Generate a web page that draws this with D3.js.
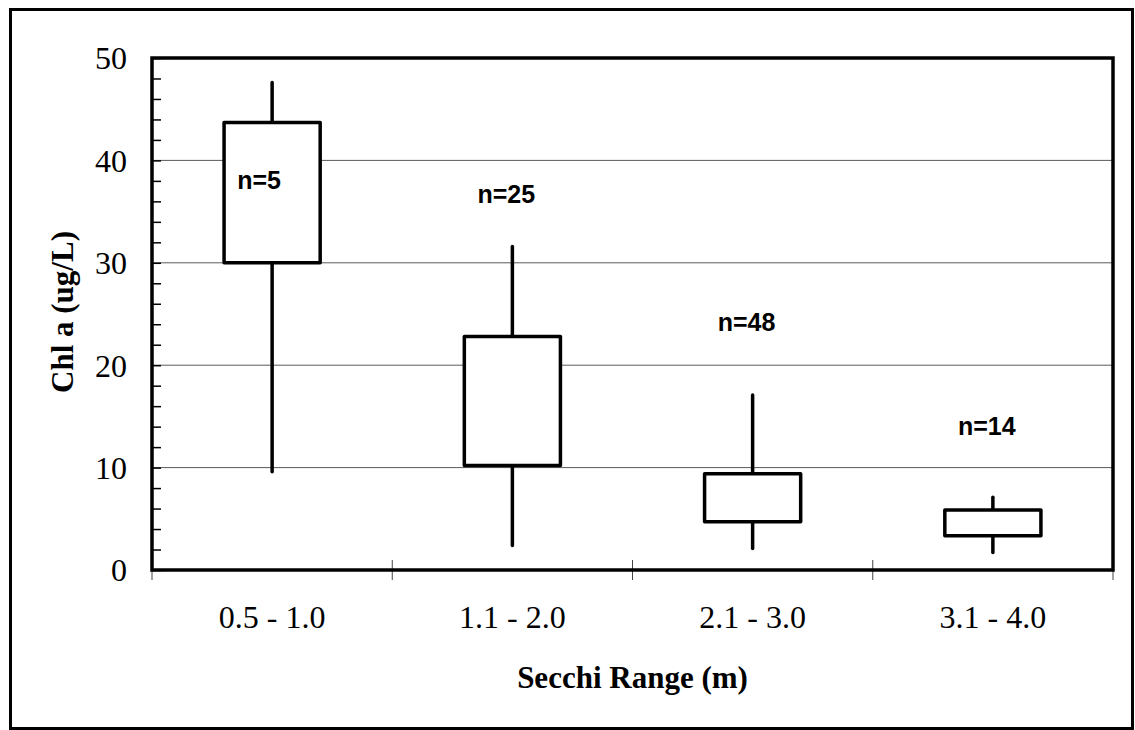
<!DOCTYPE html>
<html>
<head>
<meta charset="utf-8">
<script src="https://cdn.jsdelivr.net/npm/d3@7"></script>
<style>
  html, body { margin: 0; padding: 0; background: #fff; }
  svg { display: block; }
</style>
</head>
<body>
<svg id="chart" width="1135" height="730"></svg>
<script>
// Secchi depth classes and chlorophyll-a box summaries (ug/L)
const categories = ["0.5 - 1.0", "1.1 - 2.0", "2.1 - 3.0", "3.1 - 4.0"];
const whiskerLow = [9.6, 2.4, 2.1, 1.7];
const boxLow     = [30.0, 10.2, 4.7, 3.35];
const boxHigh    = [43.7, 22.8, 9.4, 5.85];
const whiskerHigh = [47.6, 31.6, 17.1, 7.1];
const sampleCounts = [5, 25, 48, 14];
const countLabelAt = [37.2, 35.8, 23.3, 13.2];
const yTicks = [0, 10, 20, 30, 40, 50];

const data = categories.map((c, i) => ({
  cat: c,
  wLo: whiskerLow[i], bLo: boxLow[i], bHi: boxHigh[i], wHi: whiskerHigh[i],
  n: sampleCounts[i], labelY: countLabelAt[i]
}));

const svg = d3.select("#chart");
const plot = { left: 152, right: 1113, top: 58, bottom: 570 };

const x = d3.scaleBand().domain(categories).range([plot.left, plot.right]).padding(0);
const y = d3.scaleLinear().domain([0, 50]).range([plot.bottom, plot.top]);
const boxW = x.bandwidth() * 0.4;

// outer frame
svg.append("rect")
  .attr("x", 10.5).attr("y", 9.5).attr("width", 1122).attr("height", 719)
  .attr("fill", "none").attr("stroke", "#000").attr("stroke-width", 3);

// horizontal gridlines
svg.append("g").selectAll("line")
  .data(yTicks.filter(v => v > 0 && v < 50))
  .join("line")
  .attr("x1", plot.left).attr("x2", plot.right)
  .attr("y1", d => y(d)).attr("y2", d => y(d))
  .attr("stroke", "#5a5a5a").attr("stroke-width", 1);

// minor ticks on the value axis, pointing into the plot
const minorAxis = d3.axisRight(y).tickValues(d3.range(0, 51, 2)).tickSize(9).tickFormat("");
svg.append("g")
  .attr("transform", `translate(${plot.left},0)`)
  .call(minorAxis)
  .call(g => g.select(".domain").remove())
  .call(g => g.selectAll(".tick line").attr("stroke", "#000").attr("stroke-width", 1.5));

// value axis labels
const yAxis = d3.axisLeft(y).tickValues(yTicks).tickSize(0).tickPadding(25);
svg.append("g")
  .attr("transform", `translate(${plot.left},0)`)
  .call(yAxis)
  .call(g => g.select(".domain").remove())
  .call(g => g.selectAll(".tick text")
    .attr("font-family", "'Liberation Serif', 'Times New Roman', serif")
    .attr("font-size", 32).attr("fill", "#000").attr("dy", "0.34em"));

// category axis labels
const xAxis = d3.axisBottom(x).tickSize(0);
svg.append("g")
  .attr("transform", `translate(0,${plot.bottom})`)
  .call(xAxis)
  .call(g => g.select(".domain").remove())
  .call(g => g.selectAll(".tick text")
    .attr("font-family", "'Liberation Serif', 'Times New Roman', serif")
    .attr("font-size", 32).attr("fill", "#000")
    .attr("y", 58).attr("dy", 0));

// category boundary ticks crossing the axis
const bounds = categories.map(c => x(c)).concat([x(categories[categories.length - 1]) + x.bandwidth()]);
svg.append("g").selectAll("line")
  .data(bounds)
  .join("line")
  .attr("x1", d => d).attr("x2", d => d)
  .attr("y1", plot.bottom - 10).attr("y2", plot.bottom + 10)
  .attr("stroke", "#444").attr("stroke-width", 1);

// plot area frame
svg.append("rect")
  .attr("x", plot.left).attr("y", plot.top)
  .attr("width", plot.right - plot.left).attr("height", plot.bottom - plot.top)
  .attr("fill", "none").attr("stroke", "#000").attr("stroke-width", 3.5);

// boxes and whiskers
const boxes = svg.append("g").selectAll("g").data(data).join("g")
  .attr("transform", d => `translate(${x(d.cat) + x.bandwidth() / 2},0)`);

boxes.append("line")
  .attr("x1", 0).attr("x2", 0)
  .attr("y1", d => y(d.wHi)).attr("y2", d => y(d.bHi))
  .attr("stroke", "#000").attr("stroke-width", 3.5).attr("stroke-linecap", "round");
boxes.append("line")
  .attr("x1", 0).attr("x2", 0)
  .attr("y1", d => y(d.bLo)).attr("y2", d => y(d.wLo))
  .attr("stroke", "#000").attr("stroke-width", 3.5).attr("stroke-linecap", "round");
boxes.append("rect")
  .attr("x", -boxW / 2).attr("width", boxW)
  .attr("y", d => y(d.bHi)).attr("height", d => y(d.bLo) - y(d.bHi))
  .attr("fill", "#fff").attr("stroke", "#000").attr("stroke-width", 3.5)
  .attr("stroke-linejoin", "round");

// sample size labels
boxes.append("text")
  .attr("x", -35)
  .attr("y", d => y(d.labelY))
  .attr("font-family", "'Liberation Sans', Arial, sans-serif")
  .attr("font-weight", "bold").attr("font-size", 25)
  .attr("fill", "#000")
  .text(d => `n=${d.n}`);

// axis titles
svg.append("text")
  .attr("x", (plot.left + plot.right) / 2).attr("y", 688)
  .attr("text-anchor", "middle")
  .attr("font-family", "'Liberation Serif', 'Times New Roman', serif")
  .attr("font-weight", "bold").attr("font-size", 31)
  .text("Secchi Range (m)");

svg.append("text")
  .attr("transform", `translate(73,${(plot.top + plot.bottom) / 2 - 2}) rotate(-90)`)
  .attr("text-anchor", "middle")
  .attr("font-family", "'Liberation Serif', 'Times New Roman', serif")
  .attr("font-weight", "bold").attr("font-size", 31)
  .text("Chl a (ug/L)");
</script>
</body>
</html>
